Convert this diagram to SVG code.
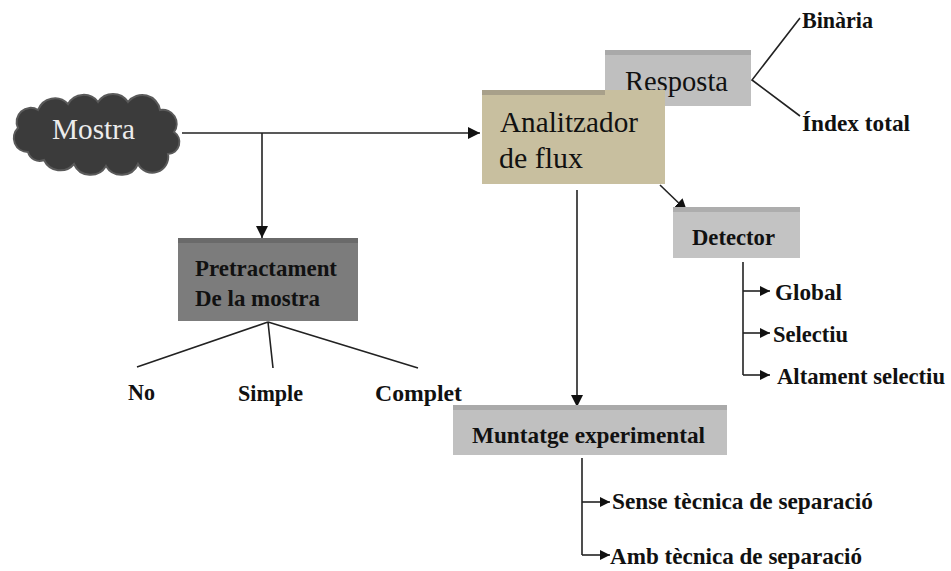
<svg xmlns="http://www.w3.org/2000/svg" width="951" height="571" viewBox="0 0 951 571">
<defs>
<marker id="ah" viewBox="0 0 10 10" refX="10" refY="5" markerWidth="12" markerHeight="12" markerUnits="userSpaceOnUse" orient="auto"><path d="M0,0 L10,5 L0,10 Z" fill="#111"/></marker>
<marker id="ahs" viewBox="0 0 10 10" refX="10" refY="5" markerWidth="10" markerHeight="10" markerUnits="userSpaceOnUse" orient="auto"><path d="M0,0 L10,5 L0,10 Z" fill="#111"/></marker>
</defs>
<style>
.ln{stroke:#222;stroke-width:1.6;fill:none}
.big{font-family:"Liberation Serif",serif;font-size:29px;fill:#111}
.sm{font-family:"Liberation Serif",serif;font-size:23px;font-weight:bold;fill:#111}
</style>
<rect width="951" height="571" fill="#fff"/>
<g id="connectors">
<path class="ln" d="M182,133 H480" marker-end="url(#ah)"/>
<path class="ln" d="M262,133 V238" marker-end="url(#ah)"/>
<path class="ln" d="M577,190 V407" marker-end="url(#ah)"/>
<path class="ln" d="M660,185 L687,211" marker-end="url(#ah)"/>
<path class="ln" d="M800,18 L752,80 L800,116"/>
<path class="ln" d="M268,322 L137,367 M268,322 L273,368 M268,322 L418,368"/>
<path class="ln" d="M743,262 V375"/>
<path class="ln" d="M743,291 H770" marker-end="url(#ahs)"/>
<path class="ln" d="M743,333 H770" marker-end="url(#ahs)"/>
<path class="ln" d="M743,375 H770" marker-end="url(#ahs)"/>
<path class="ln" d="M582,458 V555"/>
<path class="ln" d="M582,502 H610" marker-end="url(#ahs)"/>
<path class="ln" d="M582,555 H610" marker-end="url(#ahs)"/>
</g>
<g id="mostra">
<path d="M28,152 a14,14 0 0 1 -10,-24 a14,14 0 0 1 20,-18 a18,18 0 0 1 30,-6 a18,18 0 0 1 30,-2 a18,18 0 0 1 30,0 a18,18 0 0 1 32,8 a14,14 0 0 1 14,22 a12,12 0 0 1 -6,22 a16,16 0 0 1 -30,10 a18,18 0 0 1 -32,2 a18,18 0 0 1 -32,-2 a18,18 0 0 1 -30,-4 a12,12 0 0 1 -16,-8 Z" fill="#3b3b3b" stroke="#5a5a5a" stroke-width="2"/>
<text x="52" y="139" class="big" style="fill:#ececec" textLength="83" lengthAdjust="spacingAndGlyphs">Mostra</text>
</g>
<g id="resposta">
<rect x="605" y="50" width="146" height="56" fill="#bfbfbf"/>
<rect x="605" y="50" width="146" height="5" fill="#a9a9a9"/>
<text x="625" y="91" class="big" textLength="103" lengthAdjust="spacingAndGlyphs">Resposta</text>
</g>
<g id="analitzador">
<rect x="482" y="90" width="183" height="94" fill="#c8bf9f"/>
<rect x="482" y="90" width="123" height="5" fill="#a8a08a"/>
<text x="500" y="132" class="big" textLength="138" lengthAdjust="spacingAndGlyphs">Analitzador</text>
<text x="499" y="168" class="big" textLength="84" lengthAdjust="spacingAndGlyphs">de flux</text>
</g>
<g id="binaria"><text x="802" y="28" class="sm" textLength="71" lengthAdjust="spacingAndGlyphs">Binària</text></g>
<g id="index"><text x="802" y="131" class="sm" textLength="108" lengthAdjust="spacingAndGlyphs">Índex total</text></g>
<g id="detector">
<rect x="673" y="207" width="127" height="51" fill="#c3c3c3"/>
<rect x="673" y="207" width="127" height="5" fill="#adadad"/>
<text x="692" y="245" class="sm" textLength="83" lengthAdjust="spacingAndGlyphs">Detector</text>
</g>
<g id="global"><text x="775" y="300" class="sm" textLength="67" lengthAdjust="spacingAndGlyphs">Global</text></g>
<g id="selectiu"><text x="773" y="342" class="sm" textLength="75" lengthAdjust="spacingAndGlyphs">Selectiu</text></g>
<g id="altament"><text x="777" y="384" class="sm" textLength="168" lengthAdjust="spacingAndGlyphs">Altament selectiu</text></g>
<g id="pretractament">
<rect x="178" y="238" width="180" height="83" fill="#7c7c7c"/>
<rect x="178" y="238" width="180" height="5" fill="#6a6a6a"/>
<text x="195" y="276" class="sm" textLength="142" lengthAdjust="spacingAndGlyphs">Pretractament</text>
<text x="195" y="306" class="sm" textLength="125" lengthAdjust="spacingAndGlyphs">De la mostra</text>
</g>
<g id="no"><text x="128" y="400" class="sm" textLength="27" lengthAdjust="spacingAndGlyphs">No</text></g>
<g id="simple"><text x="238" y="401" class="sm" textLength="65" lengthAdjust="spacingAndGlyphs">Simple</text></g>
<g id="complet"><text x="375" y="401" class="sm" textLength="87" lengthAdjust="spacingAndGlyphs">Complet</text></g>
<g id="muntatge">
<rect x="453" y="405" width="274" height="50" fill="#c0c0c0"/>
<rect x="453" y="405" width="274" height="5" fill="#aaaaaa"/>
<text x="472" y="443" class="sm" textLength="233" lengthAdjust="spacingAndGlyphs">Muntatge experimental</text>
</g>
<g id="sense"><text x="612" y="509" class="sm" textLength="261" lengthAdjust="spacingAndGlyphs">Sense tècnica de separació</text></g>
<g id="amb"><text x="610" y="564" class="sm" textLength="252" lengthAdjust="spacingAndGlyphs">Amb tècnica de separació</text></g>
</svg>
